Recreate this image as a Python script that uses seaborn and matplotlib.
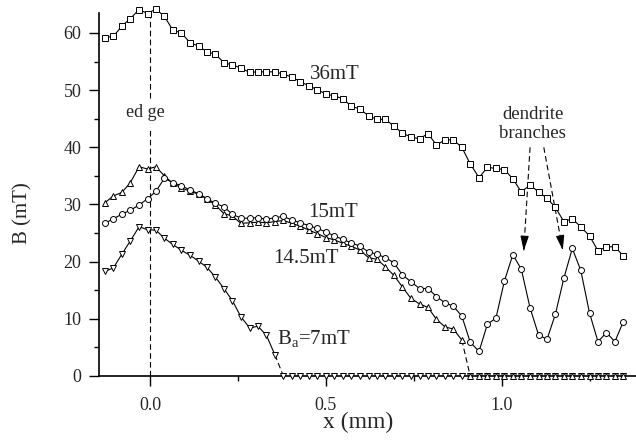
import matplotlib
matplotlib.use("Agg")
import matplotlib.pyplot as plt
import seaborn as sns

# scan positions (mm), shared by all four profiles
X_MM = [
    -0.128, -0.104, -0.080, -0.056, -0.031, -0.007, 0.017, 0.041, 0.065, 0.089,
    0.114, 0.138, 0.162, 0.186, 0.210, 0.234, 0.258, 0.283, 0.307, 0.331,
    0.355, 0.379, 0.403, 0.427, 0.452, 0.476, 0.500, 0.524, 0.548, 0.572,
    0.597, 0.621, 0.645, 0.669, 0.693, 0.717, 0.741, 0.766, 0.790, 0.814,
    0.838, 0.862, 0.886, 0.910, 0.935, 0.959, 0.983, 1.007, 1.031, 1.055,
    1.080, 1.104, 1.128, 1.152, 1.176, 1.200, 1.224, 1.249, 1.273, 1.297,
    1.321, 1.345,
]

B_36MT = [
    59.2, 59.4, 61.2, 62.5, 64.1, 63.4, 64.2, 62.9, 60.5, 60.0,
    58.3, 57.7, 56.7, 56.3, 54.8, 54.4, 53.9, 53.1, 53.2, 53.2,
    53.2, 52.8, 52.3, 51.5, 50.7, 50.1, 49.3, 49.0, 48.5, 47.2,
    46.7, 45.5, 44.9, 44.9, 43.7, 42.5, 41.8, 41.5, 42.4, 40.4,
    41.3, 41.3, 40.0, 37.1, 34.7, 36.5, 36.3, 36.1, 34.5, 32.2,
    33.4, 32.2, 31.1, 29.5, 27.0, 27.5, 26.1, 24.5, 21.9, 22.6,
    22.6, 21.0,
]

B_15MT = [
    26.7, 27.5, 28.3, 29.0, 29.9, 31.0, 32.3, 34.6, 33.8, 33.3,
    32.5, 31.9, 31.0, 30.2, 29.6, 28.3, 27.6, 27.6, 27.7, 27.4,
    27.7, 27.9, 27.3, 26.8, 26.3, 25.8, 25.2, 24.5, 23.9, 23.3,
    22.7, 21.7, 21.3, 20.7, 19.8, 17.7, 16.5, 15.3, 15.3, 13.9,
    12.8, 12.2, 10.5, 5.9, 4.3, 9.1, 10.1, 16.6, 21.2, 18.7,
    11.9, 7.2, 6.4, 10.8, 17.1, 22.3, 18.5, 11.0, 6.0, 7.6,
    6.0, 9.5,
]

B_14_5MT = [
    30.3, 31.5, 32.1, 33.8, 36.6, 36.2, 36.6, 35.0, 33.7, 32.9,
    32.3, 31.8, 31.0, 29.9, 28.4, 28.0, 26.7, 26.8, 26.9, 26.8,
    27.0, 27.2, 26.7, 26.2, 25.5, 24.9, 24.2, 23.8, 23.2, 22.7,
    22.0, 20.7, 20.4, 19.1, 17.6, 15.6, 13.6, 12.6, 12.0, 9.9,
    8.6, 8.2, 6.3, 0.0, 0.0, 0.0, 0.0, 0.0, 0.0, 0.0,
    0.0, 0.0, 0.0, 0.0, 0.0, 0.0, 0.0, 0.0, 0.0, 0.0,
    0.0, 0.0,
]

B_7MT = [
    18.3, 18.9, 21.3, 23.6, 26.1, 25.6, 25.5, 24.1, 23.0, 22.0,
    21.1, 20.1, 19.0, 17.3, 15.3, 13.2, 10.4, 8.4, 8.7, 7.1,
    3.7, 0.0, 0.0, 0.0, 0.0, 0.0, 0.0, 0.0, 0.0, 0.0,
    0.0, 0.0, 0.0, 0.0, 0.0, 0.0, 0.0, 0.0, 0.0, 0.0,
    0.0, 0.0, 0.0, 0.0, 0.0, 0.0, 0.0, 0.0, 0.0, 0.0,
    0.0, 0.0, 0.0, 0.0, 0.0, 0.0, 0.0, 0.0, 0.0, 0.0,
    0.0, 0.0,
]

SERIF = "Liberation Serif"
LW = 0.8


def draw_profile(ax, y, marker, ms):
    # flux-free part (B = 0) gets markers only, joined by a dashed step
    n = next((i for i, v in enumerate(y) if v == 0), len(y))
    marker_kws = dict(marker=marker, ms=ms, mfc="white", mec="black", mew=0.7,
                      clip_on=False, zorder=3)
    sns.lineplot(x=X_MM[:n], y=y[:n], ax=ax, color="black", lw=LW,
                 sort=False, estimator=None, **marker_kws)
    if n < len(y):
        ax.plot(X_MM[n - 1:n + 1], y[n - 1:n + 1], color="black", lw=LW,
                linestyle=(0, (5, 3)), zorder=2)
        sns.lineplot(x=X_MM[n:], y=y[n:], ax=ax, color="black",
                     linestyle="none", sort=False, estimator=None, **marker_kws)


def main() -> None:
    sns.set_style("ticks")
    plt.rcParams["font.family"] = SERIF
    plt.rcParams["mathtext.fontset"] = "custom"
    plt.rcParams["mathtext.rm"] = SERIF

    fig = plt.figure(figsize=(6.36, 4.44), dpi=100)
    ax = fig.add_axes([0.1564, 0.1532, 0.8436, 0.8176])

    draw_profile(ax, B_7MT, "v", 4.6)
    draw_profile(ax, B_14_5MT, "^", 4.6)
    draw_profile(ax, B_15MT, "o", 4.3)
    draw_profile(ax, B_36MT, "s", 4.0)

    # sample edge
    ax.plot([0, 0], [48.6, 63.5], color="black", lw=LW, linestyle=(0, (5, 3)))
    ax.plot([0, 0], [0, 43.6], color="black", lw=LW, linestyle=(0, (5, 3)))
    ax.text(-0.012, 46.1, "ed ge", fontsize=13, ha="center", va="center")

    # dendrite branch arrows
    for start, tip in [((1.080, 40.0), (1.062, 21.9)), ((1.119, 40.0), (1.173, 22.0))]:
        ax.plot([start[0], tip[0]], [start[1], tip[1]], color="black", lw=LW,
                linestyle=(0, (5, 3)))
        back = (tip[0] - (tip[0] - start[0]) * 0.12, tip[1] - (tip[1] - start[1]) * 0.12)
        ax.annotate("", xy=tip, xytext=back,
                    arrowprops=dict(arrowstyle="-|>,head_length=0.6,head_width=0.17",
                                    color="black", lw=LW, mutation_scale=15,
                                    shrinkA=0, shrinkB=0))
    ax.text(1.088, 44.0, "dendrite\nbranches", fontsize=13.5, ha="center", va="center",
            linespacing=1.15)

    ax.text(0.455, 52.8, "36mT", fontsize=15, ha="left", va="center")
    ax.text(0.449, 28.6, "15mT", fontsize=15, ha="left", va="center")
    ax.text(0.349, 20.6, "14.5mT", fontsize=15, ha="left", va="center")
    ax.text(0.360, 6.5, r"B$_\mathrm{a}$=7mT", fontsize=15, ha="left", va="center")

    ax.set_xlim(-0.1435, 1.381)
    ax.set_ylim(0, 63.5)
    ax.set_xticks([0.0, 0.5, 1.0])
    ax.set_xticks([0.25, 0.75, 1.25], minor=True)
    ax.set_xticklabels(["0.0", "0.5", "1.0"])
    ax.set_yticks(range(0, 61, 10))
    ax.set_yticks(range(5, 61, 10), minor=True)
    ax.tick_params(axis="both", which="major", direction="out", length=7, width=1.0,
                   labelsize=13, color="black")
    ax.tick_params(axis="both", which="minor", direction="out", length=3.6, width=1.0,
                   color="black")
    ax.tick_params(axis="x", which="major", pad=8)
    ax.tick_params(axis="y", which="major", pad=6)

    sns.despine(ax=ax)
    for side in ("left", "bottom"):
        ax.spines[side].set_linewidth(1.2)
        ax.spines[side].set_color("black")

    ax.set_xlabel("x (mm)", fontsize=17)
    ax.set_ylabel("B (mT)", fontsize=15)
    ax.xaxis.set_label_coords(0.482, -0.10)
    ax.yaxis.set_label_coords(-0.124, 0.449)

    fig.savefig("out.png", dpi=100)
    plt.close(fig)


if __name__ == "__main__":
    main()
